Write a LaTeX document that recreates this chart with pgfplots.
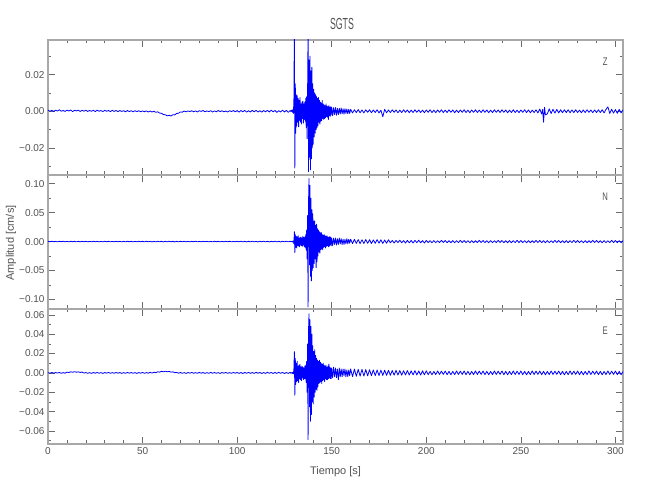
\documentclass[border=0pt]{standalone}
\usepackage{pgfplots}
\pgfplotsset{compat=1.18}
\usepackage{fontspec}
\setmainfont{Liberation Sans}
\newfontfamily\condfont[FakeStretch=0.55]{Liberation Sans}
\newfontfamily\narrowfont[FakeStretch=0.7]{Liberation Sans}

\definecolor{axgray}{gray}{0.66}
\definecolor{tickgray}{gray}{0.42}
\definecolor{labgray}{gray}{0.32}

\pgfplotsset{
  seis/.style={
    scale only axis, width=575pt, height=135pt,
    xmin=0, xmax=304,
    xtick={0,50,100,150,200,250,300}, minor x tick num=4,
    xticklabels={},
    scaled y ticks=false, scaled x ticks=false,
    no markers,
    axis line style={draw=axgray, line width=1.3pt},
    tick style={draw=tickgray, line width=0.6pt},
    major tick length=7pt, minor tick length=3.5pt,
    tick align=inside,
    tick label style={font=\fontsize{10}{12}\selectfont, text=labgray},
  },
  trace/.style={blue, line width=0.8pt, line join=round, mark=none},
}

\begin{document}
\begin{tikzpicture}
\path[use as bounding box] (0,0) rectangle (650pt,500pt);

% ---- Z ----
\begin{axis}[seis, at={(48pt,325pt)}, anchor=south west,
  ymin=-0.0348, ymax=0.0389,
  ytick={-0.02,0,0.02}, yticklabels={−0.02,0.00,0.02},
  minor ytick={-0.03,-0.01,0.01,0.03},
]
\addplot[trace] coordinates {
(0,0.0006)(1,0.0000)(2,0.0005)(3,-0.0001)(4,0.0006)(5,0.0001)(6,0.0008)(7,0.0000)(8,0.0004)(9,-0.0001)
(10,0.0006)(11,0.0001)(12,0.0007)(13,-0.0002)(14,0.0005)(15,0.0002)(16,0.0006)(17,-0.0001)(18,0.0005)(19,0.0000)
(20,0.0006)(21,-0.0001)(22,0.0004)(23,0.0000)(24,0.0005)(25,-0.0002)(26,0.0006)(27,0.0000)(28,0.0004)(29,-0.0002)
(30,0.0005)(31,0.0000)(32,0.0004)(33,-0.0002)(34,0.0005)(35,-0.0001)(36,0.0004)(37,-0.0002)(38,0.0004)(39,-0.0001)
(40,0.0003)(41,-0.0003)(42,0.0004)(43,-0.0002)(44,0.0003)(45,-0.0003)(46,0.0003)(47,-0.0002)(48,0.0003)(49,-0.0003)
(50,0.0002)(51,-0.0003)(52,0.0002)(53,-0.0004)(54,0.0001)(55,-0.0004)(56,0.0000)(57,-0.0006)(58,-0.0003)(59,-0.0010)
(60,-0.0011)(61,-0.0018)(62,-0.0019)(63,-0.0025)(64,-0.0022)(65,-0.0026)(66,-0.0019)(67,-0.0020)(68,-0.0012)(69,-0.0011)
(70,-0.0004)(71,-0.0005)(72,0.0001)(73,-0.0003)(74,0.0002)(75,-0.0002)(76,0.0003)(77,-0.0003)(78,0.0002)(79,-0.0004)
(80,0.0003)(81,-0.0001)(82,0.0004)(83,-0.0003)(84,0.0002)(85,-0.0002)(86,0.0003)(87,-0.0004)(88,0.0002)(89,-0.0003)
(90,0.0004)(91,-0.0002)(92,0.0003)(93,-0.0003)(94,0.0001)(95,-0.0004)(96,0.0003)(97,-0.0002)(98,0.0004)(99,-0.0003)
(100,0.0004)(101,-0.0005)(102,0.0004)(103,-0.0003)(104,0.0005)(105,-0.0005)(106,0.0003)(107,-0.0004)(108,0.0005)(109,-0.0003)
(110,0.0005)(111,-0.0004)(112,0.0003)(113,-0.0005)(114,0.0004)(115,-0.0003)(116,0.0005)(117,-0.0004)(118,0.0006)(119,-0.0003)
(120,0.0004)(121,-0.0006)(122,0.0003)(123,-0.0004)(124,0.0006)(125,-0.0004)(126,0.0005)(127,-0.0006)(128,0.0004)(128.5,-0.0003)
(128.75,0.0005)(129,0.0004)(129.25,-0.0005)(129.5,0.0010)(129.75,-0.0012)(130,0.0060)(130.25,0.0450)(130.5,-0.0310)(130.75,0.0150)
(131,-0.0120)(131.25,0.0090)(131.5,-0.0080)(131.75,0.0085)(132,-0.0060)(132.25,0.0070)(132.5,-0.0085)(132.75,0.0060)
(133,-0.0050)(133.25,0.0075)(133.5,-0.0060)(133.75,0.0040)(134,-0.0070)(134.25,0.0050)(134.5,-0.0040)(134.75,0.0055)
(135,-0.0065)(135.25,0.0040)(135.5,-0.0045)(135.75,0.0050)(136,-0.0055)(136.25,0.0070)(136.5,-0.0090)(136.75,0.0080)
(137,-0.0150)(137.25,0.0120)(137.5,0.0450)(137.75,-0.0330)(138,0.0280)(138.25,-0.0250)(138.5,0.0300)(138.75,-0.0320)
(139,0.0220)(139.25,-0.0260)(139.5,0.0240)(139.75,-0.0200)(140,0.0150)(140.25,-0.0180)(140.5,0.0120)(140.75,-0.0140)
(141,0.0100)(141.25,-0.0120)(141.5,0.0090)(141.75,-0.0100)(142,0.0080)(142.25,-0.0090)(142.5,0.0070)(142.75,-0.0080)
(143,0.0075)(143.25,-0.0060)(143.5,0.0060)(143.75,-0.0070)(144,0.0050)(144.25,-0.0055)(144.5,0.0045)(144.75,-0.0050)
(145,0.0060)(145.25,-0.0040)(145.5,0.0040)(145.75,-0.0045)(146,0.0035)(146.25,-0.0040)(146.5,0.0030)(146.75,-0.0035)
(147,0.0040)(147.25,-0.0030)(147.5,0.0028)(147.75,-0.0032)(148,0.0025)(148.25,-0.0045)(148.5,0.0030)(148.75,-0.0025)
(149,0.0022)(149.25,-0.0028)(149.5,0.0025)(149.75,-0.0020)(150,0.0022)(150.5,-0.0025)(151,0.0020)(151.5,-0.0018)
(152,0.0020)(152.5,-0.0022)(153,0.0015)(153.5,-0.0018)(154,0.0016)(154.5,-0.0015)(155,0.0018)(155.5,-0.0014)
(156,0.0013)(156.5,-0.0016)(157,0.0014)(157.5,-0.0012)(158,0.0012)(158.5,-0.0014)(159,0.0011)(159.5,-0.0012)(160,0.0010)
(161,-0.0009)(162,0.0008)(163,-0.0007)(164,0.0009)(165,-0.0008)(166,0.0007)(167,-0.0009)(168,0.0008)(169,-0.0006)(170,0.0008)
(171,-0.0008)(172,0.0007)(173,-0.0007)(174,0.0008)(175,-0.0009)(176,0.0006)(177,-0.0030)(178,0.0010)(179,-0.0008)(180,0.0007)
(181,-0.0007)(182,0.0008)(183,-0.0006)(184,0.0007)(185,-0.0008)(186,0.0006)(187,-0.0007)(188,0.0008)(189,-0.0006)(190,0.0007)
(191,-0.0008)(192,0.0006)(193,-0.0007)(194,0.0008)(195,-0.0006)(196,0.0007)(197,-0.0007)(198,0.0006)(199,-0.0008)(200,0.0007)
(201,-0.0006)(202,0.0008)(203,-0.0007)(204,0.0006)(205,-0.0008)(206,0.0007)(207,-0.0006)(208,0.0008)(209,-0.0007)(210,0.0006)
(211,-0.0007)(212,0.0008)(213,-0.0006)(214,0.0007)(215,-0.0008)(216,0.0006)(217,-0.0007)(218,0.0007)(219,-0.0006)(220,0.0008)
(221,-0.0007)(222,0.0006)(223,-0.0008)(224,0.0007)(225,-0.0006)(226,0.0008)(227,-0.0007)(228,0.0006)(229,-0.0007)(230,0.0008)
(231,-0.0006)(232,0.0007)(233,-0.0008)(234,0.0006)(235,-0.0007)(236,0.0008)(237,-0.0006)(238,0.0007)(239,-0.0007)(240,0.0008)
(241,-0.0006)(242,0.0007)(243,-0.0008)(244,0.0006)(245,-0.0007)(246,0.0008)(247,-0.0007)(248,0.0006)(249,-0.0008)(250,0.0007)
(251,-0.0006)(252,0.0008)(253,-0.0007)(254,0.0007)(255,-0.0008)(256,0.0006)(257,-0.0007)(258,0.0008)(259,-0.0009)(260,0.0012)
(261,-0.0015)(261.5,0.0010)(262,-0.0060)(262.5,0.0022)(263,-0.0020)(264,-0.0014)(265,0.0013)(266,-0.0012)(267,0.0011)(268,-0.0010)
(269,0.0010)(270,-0.0009)(271,0.0008)(272,-0.0008)(273,0.0008)(274,-0.0007)(275,0.0008)(276,-0.0008)(277,0.0007)(278,-0.0007)
(279,0.0008)(280,-0.0007)(281,0.0006)(282,-0.0008)(283,0.0007)(284,-0.0007)(285,0.0008)(286,-0.0006)(287,0.0007)(288,-0.0008)
(289,0.0007)(290,-0.0007)(291,0.0008)(292,-0.0007)(293,0.0008)(294,-0.0009)(295,0.0010)(296,0.0024)(297,-0.0012)(298,0.0011)
(299,-0.0010)(300,0.0009)(301,-0.0011)(302,0.0010)(303,-0.0009)(304,0.0008)
};
\node[text=labgray, font=\narrowfont\fontsize{11}{13}\selectfont] at (rel axis cs:0.969,0.84) {Z};
\end{axis}

% ---- N ----
\begin{axis}[seis, at={(48pt,191pt)}, anchor=south west, height=134pt,
  ymin=-0.1165, ymax=0.115,
  ytick={-0.1,-0.05,0,0.05,0.1}, yticklabels={−0.10,−0.05,0.00,0.05,0.10},
  minor ytick={-0.075,-0.025,0.025,0.075},
]
\addplot[trace] coordinates {
(0,0.0004)(1,-0.0003)(2,0.0005)(3,-0.0004)(4,0.0003)(5,-0.0005)(6,0.0004)(7,-0.0002)(8,0.0005)(9,-0.0004)
(10,0.0003)(11,-0.0004)(12,0.0005)(13,-0.0003)(14,0.0004)(15,-0.0005)(16,0.0003)(17,-0.0004)(18,0.0005)(19,-0.0003)
(20,0.0004)(21,-0.0005)(22,0.0003)(23,-0.0004)(24,0.0005)(25,-0.0003)(26,0.0004)(27,-0.0005)(28,0.0003)(29,-0.0004)
(30,0.0005)(31,-0.0003)(32,0.0004)(33,-0.0005)(34,0.0003)(35,-0.0004)(36,0.0005)(37,-0.0003)(38,0.0004)(39,-0.0005)
(40,0.0003)(41,-0.0004)(42,0.0005)(43,-0.0003)(44,0.0004)(45,-0.0005)(46,0.0003)(47,-0.0004)(48,0.0005)(49,-0.0003)
(50,0.0004)(51,-0.0005)(52,0.0006)(53,-0.0004)(54,0.0005)(55,-0.0006)(56,0.0004)(57,-0.0005)(58,0.0006)(59,-0.0004)
(60,0.0005)(61,-0.0006)(62,0.0004)(63,-0.0005)(64,0.0006)(65,-0.0004)(66,0.0005)(67,-0.0006)(68,0.0004)(69,-0.0005)
(70,0.0004)(71,-0.0003)(72,0.0005)(73,-0.0004)(74,0.0003)(75,-0.0005)(76,0.0004)(77,-0.0003)(78,0.0005)(79,-0.0004)
(80,0.0003)(81,-0.0004)(82,0.0005)(83,-0.0003)(84,0.0004)(85,-0.0005)(86,0.0003)(87,-0.0004)(88,0.0005)(89,-0.0003)
(90,0.0004)(91,-0.0005)(92,0.0003)(93,-0.0004)(94,0.0005)(95,-0.0003)(96,0.0004)(97,-0.0005)(98,0.0003)(99,-0.0004)
(100,0.0005)(101,-0.0004)(102,0.0006)(103,-0.0005)(104,0.0004)(105,-0.0006)(106,0.0005)(107,-0.0004)(108,0.0006)(109,-0.0005)
(110,0.0004)(111,-0.0006)(112,0.0005)(113,-0.0004)(114,0.0006)(115,-0.0005)(116,0.0004)(117,-0.0006)(118,0.0005)(119,-0.0004)
(120,0.0006)(121,-0.0005)(122,0.0004)(123,-0.0006)(124,0.0005)(125,-0.0004)(126,0.0006)(127,-0.0005)(128,0.0006)(128.5,-0.0006)
(129,0.0007)(129.25,-0.0008)(129.5,0.0009)(129.75,0.0010)(130,-0.0040)(130.25,0.0170)(130.5,-0.0190)(130.75,0.0120)
(131,-0.0100)(131.25,0.0090)(131.5,-0.0110)(131.75,0.0080)(132,-0.0070)(132.25,0.0100)(132.5,-0.0080)(132.75,0.0060)
(133,-0.0090)(133.25,0.0070)(133.5,-0.0060)(133.75,0.0080)(134,-0.0070)(134.25,0.0060)(134.5,-0.0080)(134.75,0.0090)
(135,-0.0060)(135.25,0.0070)(135.5,-0.0090)(135.75,0.0080)(136,-0.0100)(136.25,0.0120)(136.5,-0.0150)(136.75,0.0200)
(137,-0.0300)(137.25,0.0450)(137.5,-0.1130)(137.75,0.0700)(138,0.1090)(138.25,-0.0400)(138.5,0.0970)(138.75,-0.0600)
(139,0.0750)(139.25,-0.0680)(139.5,0.0550)(139.75,-0.0500)(140,0.0480)(140.25,-0.0450)(140.5,0.0350)(140.75,-0.0380)
(141,0.0360)(141.25,-0.0300)(141.5,0.0280)(141.75,-0.0450)(142,0.0300)(142.25,-0.0350)(142.5,0.0220)(142.75,-0.0250)
(143,0.0200)(143.25,-0.0180)(143.5,0.0170)(143.75,-0.0200)(144,0.0150)(144.25,-0.0140)(144.5,0.0160)(144.75,-0.0130)
(145,0.0120)(145.25,-0.0140)(145.5,0.0110)(145.75,-0.0100)(146,0.0120)(146.25,-0.0090)(146.5,0.0100)(146.75,-0.0110)
(147,0.0090)(147.25,-0.0080)(147.5,0.0100)(147.75,-0.0070)(148,0.0080)(148.25,-0.0090)(148.5,0.0070)(148.75,-0.0080)
(149,0.0090)(149.25,-0.0060)(149.5,0.0070)(149.75,-0.0070)(150,0.0060)(150.5,-0.0070)(151,0.0060)(151.5,-0.0050)
(152,0.0060)(152.5,-0.0060)(153,0.0050)(153.5,-0.0050)(154,0.0060)(154.5,-0.0040)(155,0.0050)(155.5,-0.0050)
(156,0.0040)(156.5,-0.0050)(157,0.0040)(157.5,-0.0040)(158,0.0050)(158.5,-0.0040)(159,0.0040)(159.5,-0.0030)(160,0.0040)
(161,-0.0035)(162,0.0038)(163,-0.0032)(164,0.0034)(165,-0.0036)(166,0.0030)(167,-0.0033)(168,0.0035)(169,-0.0030)(170,0.0032)
(171,-0.0034)(172,0.0029)(173,-0.0031)(174,0.0033)(175,-0.0028)(176,0.0030)(177,-0.0032)(178,0.0027)(179,-0.0029)(180,0.0031)
(181,-0.0022)(182,0.0019)(183,-0.0024)(184,0.0020)(185,-0.0018)(186,0.0023)(187,-0.0021)(188,0.0017)(189,-0.0025)(190,0.0020)
(191,-0.0022)(192,0.0019)(193,-0.0024)(194,0.0020)(195,-0.0018)(196,0.0023)(197,-0.0021)(198,0.0017)(199,-0.0025)(200,0.0020)
(201,-0.0018)(202,0.0015)(203,-0.0020)(204,0.0016)(205,-0.0019)(206,0.0014)(207,-0.0017)(208,0.0021)(209,-0.0016)(210,0.0018)
(211,-0.0018)(212,0.0015)(213,-0.0020)(214,0.0016)(215,-0.0019)(216,0.0014)(217,-0.0017)(218,0.0021)(219,-0.0016)(220,0.0018)
(221,-0.0018)(222,0.0015)(223,-0.0020)(224,0.0016)(225,-0.0019)(226,0.0014)(227,-0.0017)(228,0.0021)(229,-0.0016)(230,0.0018)
(231,-0.0018)(232,0.0015)(233,-0.0020)(234,0.0016)(235,-0.0019)(236,0.0014)(237,-0.0017)(238,0.0021)(239,-0.0016)(240,0.0018)
(241,-0.0018)(242,0.0015)(243,-0.0020)(244,0.0016)(245,-0.0019)(246,0.0014)(247,-0.0017)(248,0.0021)(249,-0.0016)(250,0.0018)
(251,-0.0018)(252,0.0015)(253,-0.0020)(254,0.0016)(255,-0.0019)(256,0.0014)(257,-0.0017)(258,0.0021)(259,-0.0016)(260,0.0018)
(261,-0.0018)(262,0.0015)(263,-0.0020)(264,0.0016)(265,-0.0019)(266,0.0014)(267,-0.0017)(268,0.0021)(269,-0.0016)(270,0.0018)
(271,-0.0018)(272,0.0015)(273,-0.0020)(274,0.0016)(275,-0.0019)(276,0.0014)(277,-0.0017)(278,0.0021)(279,-0.0016)(280,0.0018)
(281,-0.0018)(282,0.0015)(283,-0.0020)(284,0.0016)(285,-0.0019)(286,0.0014)(287,-0.0017)(288,0.0021)(289,-0.0016)(290,0.0018)
(291,-0.0018)(292,0.0015)(293,-0.0020)(294,0.0016)(295,-0.0019)(296,0.0014)(297,-0.0017)(298,0.0021)(299,-0.0016)(300,0.0018)
(301,-0.0018)(302,0.0015)(303,-0.0020)(304,0.0016)
};
\node[text=labgray, font=\narrowfont\fontsize{11}{13}\selectfont] at (rel axis cs:0.969,0.84) {N};
\end{axis}

% ---- E ----
\begin{axis}[seis, at={(48pt,56pt)}, anchor=south west,
  ymin=-0.0734, ymax=0.066,
  ytick={-0.06,-0.04,-0.02,0,0.02,0.04,0.06},
  yticklabels={−0.06,−0.04,−0.02,0.00,0.02,0.04,0.06},
  minor ytick={-0.07,-0.05,-0.03,-0.01,0.01,0.03,0.05},
  xticklabels={0,50,100,150,200,250,300},
]
\addplot[trace] coordinates {
(0,0.0003)(1,-0.0004)(2,0.0005)(3,-0.0003)(4,0.0004)(5,-0.0002)(6,0.0005)(7,-0.0004)(8,0.0003)(9,-0.0003)
(10,0.0008)(11,0.0004)(12,0.0012)(13,0.0006)(14,0.0013)(15,0.0007)(16,0.0011)(17,0.0005)(18,0.0009)(19,-0.0002)
(20,0.0004)(21,-0.0004)(22,0.0003)(23,-0.0005)(24,0.0004)(25,-0.0003)(26,0.0005)(27,-0.0004)(28,0.0003)(29,-0.0005)
(30,0.0004)(31,-0.0003)(32,0.0005)(33,-0.0004)(34,0.0003)(35,-0.0004)(36,0.0005)(37,-0.0003)(38,0.0004)(39,-0.0005)
(40,0.0003)(41,-0.0004)(42,0.0005)(43,-0.0003)(44,0.0004)(45,-0.0004)(46,0.0003)(47,-0.0005)(48,0.0004)(49,-0.0003)
(50,0.0005)(51,-0.0004)(52,0.0003)(53,-0.0003)(54,0.0006)(55,-0.0002)(56,0.0007)(57,0.0002)(58,0.0012)(59,0.0008)
(60,0.0017)(61,0.0011)(62,0.0018)(63,0.0012)(64,0.0016)(65,0.0008)(66,0.0011)(67,0.0002)(68,0.0005)(69,-0.0003)
(70,0.0004)(71,-0.0004)(72,0.0003)(73,-0.0005)(74,0.0004)(75,-0.0003)(76,0.0005)(77,-0.0004)(78,0.0003)(79,-0.0004)
(80,0.0005)(81,-0.0003)(82,0.0004)(83,-0.0005)(84,0.0003)(85,-0.0004)(86,0.0005)(87,-0.0003)(88,0.0004)(89,-0.0004)
(90,0.0003)(91,-0.0005)(92,0.0004)(93,-0.0003)(94,0.0005)(95,-0.0004)(96,0.0003)(97,-0.0004)(98,0.0005)(99,-0.0003)
(100,0.0005)(101,-0.0005)(102,0.0004)(103,-0.0006)(104,0.0005)(105,-0.0004)(106,0.0006)(107,-0.0005)(108,0.0004)(109,-0.0005)
(110,0.0006)(111,-0.0004)(112,0.0005)(113,-0.0006)(114,0.0004)(115,-0.0005)(116,0.0006)(117,-0.0004)(118,0.0005)(119,-0.0006)
(120,0.0005)(121,-0.0005)(122,0.0006)(123,-0.0004)(124,0.0005)(125,-0.0006)(126,0.0004)(127,-0.0005)(128,0.0006)(128.5,-0.0004)
(129,0.0005)(129.25,-0.0006)(129.5,0.0007)(129.75,-0.0010)(130,0.0040)(130.25,0.0220)(130.5,-0.0230)(130.75,0.0150)
(131,-0.0120)(131.25,0.0100)(131.5,-0.0090)(131.75,0.0120)(132,-0.0080)(132.25,0.0070)(132.5,-0.0100)(132.75,0.0080)
(133,-0.0060)(133.25,0.0090)(133.5,-0.0070)(133.75,0.0060)(134,-0.0080)(134.25,0.0070)(134.5,-0.0050)(134.75,0.0060)
(135,-0.0070)(135.25,0.0050)(135.5,-0.0060)(135.75,0.0070)(136,-0.0060)(136.25,0.0080)(136.5,-0.0100)(136.75,0.0120)
(137,-0.0200)(137.25,0.0300)(137.5,-0.0690)(137.75,0.0450)(138,0.0610)(138.25,-0.0350)(138.5,0.0550)(138.75,-0.0500)
(139,0.0480)(139.25,-0.0430)(139.5,0.0400)(139.75,-0.0300)(140,0.0280)(140.25,-0.0320)(140.5,0.0220)(140.75,-0.0250)
(141,0.0240)(141.25,-0.0200)(141.5,0.0180)(141.75,-0.0170)(142,0.0150)(142.25,-0.0180)(142.5,0.0130)(142.75,-0.0140)
(143,0.0120)(143.25,-0.0110)(143.5,0.0130)(143.75,-0.0100)(144,0.0110)(144.25,-0.0090)(144.5,0.0100)(144.75,-0.0110)
(145,0.0090)(145.25,-0.0080)(145.5,0.0100)(145.75,-0.0070)(146,0.0080)(146.25,-0.0090)(146.5,0.0070)(146.75,-0.0060)
(147,0.0080)(147.25,-0.0070)(147.5,0.0060)(147.75,-0.0070)(148,0.0070)(148.25,-0.0060)(148.5,0.0090)(148.75,-0.0050)
(149,0.0060)(149.25,-0.0060)(149.5,0.0050)(149.75,-0.0060)(150,0.0050)(150.5,-0.0050)(151,0.0060)(151.5,-0.0040)
(152,0.0050)(152.5,-0.0050)(153,0.0040)(153.5,-0.0070)(154,0.0050)(154.5,-0.0040)(155,0.0040)(155.5,-0.0040)
(156,0.0040)(156.5,-0.0030)(157,0.0040)(157.5,-0.0040)(158,0.0030)(158.5,-0.0040)(159,0.0030)(159.5,-0.0030)(160,0.0040)
(161,-0.0038)(162,0.0040)(163,-0.0035)(164,0.0037)(165,-0.0033)(166,0.0036)(167,-0.0032)(168,0.0034)(169,-0.0030)(170,0.0033)
(171,-0.0029)(172,0.0031)(173,-0.0028)(174,0.0030)(175,-0.0027)(176,0.0029)(177,-0.0026)(178,0.0028)(179,-0.0025)(180,0.0027)
(181,-0.0024)(182,0.0025)(183,-0.0023)(184,0.0026)(185,-0.0022)(186,0.0024)(187,-0.0023)(188,0.0022)(189,-0.0021)(190,0.0024)
(191,-0.0022)(192,0.0021)(193,-0.0020)(194,0.0023)(195,-0.0021)(196,0.0020)(197,-0.0022)(198,0.0021)(199,-0.0019)(200,0.0022)
(201,-0.0018)(202,0.0016)(203,-0.0019)(204,0.0015)(205,-0.0017)(206,0.0020)(207,-0.0016)(208,0.0018)(209,-0.0015)(210,0.0019)
(211,-0.0018)(212,0.0016)(213,-0.0019)(214,0.0015)(215,-0.0017)(216,0.0020)(217,-0.0016)(218,0.0018)(219,-0.0015)(220,0.0019)
(221,-0.0018)(222,0.0016)(223,-0.0019)(224,0.0015)(225,-0.0017)(226,0.0020)(227,-0.0016)(228,0.0018)(229,-0.0015)(230,0.0019)
(231,-0.0018)(232,0.0016)(233,-0.0019)(234,0.0015)(235,-0.0017)(236,0.0020)(237,-0.0016)(238,0.0018)(239,-0.0015)(240,0.0019)
(241,-0.0018)(242,0.0016)(243,-0.0019)(244,0.0015)(245,-0.0017)(246,0.0020)(247,-0.0016)(248,0.0018)(249,-0.0015)(250,0.0019)
(251,-0.0018)(252,0.0016)(253,-0.0019)(254,0.0015)(255,-0.0017)(256,0.0020)(257,-0.0016)(258,0.0018)(259,-0.0015)(260,0.0019)
(261,-0.0018)(262,0.0016)(263,-0.0019)(264,0.0015)(265,-0.0017)(266,0.0020)(267,-0.0016)(268,0.0018)(269,-0.0015)(270,0.0019)
(271,-0.0018)(272,0.0016)(273,-0.0019)(274,0.0015)(275,-0.0017)(276,0.0020)(277,-0.0016)(278,0.0018)(279,-0.0015)(280,0.0019)
(281,-0.0018)(282,0.0016)(283,-0.0019)(284,0.0015)(285,-0.0017)(286,0.0020)(287,-0.0016)(288,0.0018)(289,-0.0015)(290,0.0019)
(291,-0.0018)(292,0.0016)(293,-0.0019)(294,0.0015)(295,-0.0017)(296,0.0020)(297,-0.0016)(298,0.0018)(299,-0.0015)(300,0.0019)
(301,-0.0018)(302,0.0016)(303,-0.0019)(304,0.0015)
};
\node[text=labgray, font=\narrowfont\fontsize{11}{13}\selectfont] at (rel axis cs:0.969,0.84) {E};
\end{axis}

\node[text=labgray, font=\condfont\fontsize{16}{18}\selectfont] at (342pt,476pt) {SGTS};
\node[text=labgray, rotate=90, font=\fontsize{11}{13}\selectfont] at (11pt,257pt) {Amplitud [cm/s]};
\node[text=labgray, font=\fontsize{11}{13}\selectfont] at (335.5pt,28pt) {Tiempo [s]};
\end{tikzpicture}
\end{document}
